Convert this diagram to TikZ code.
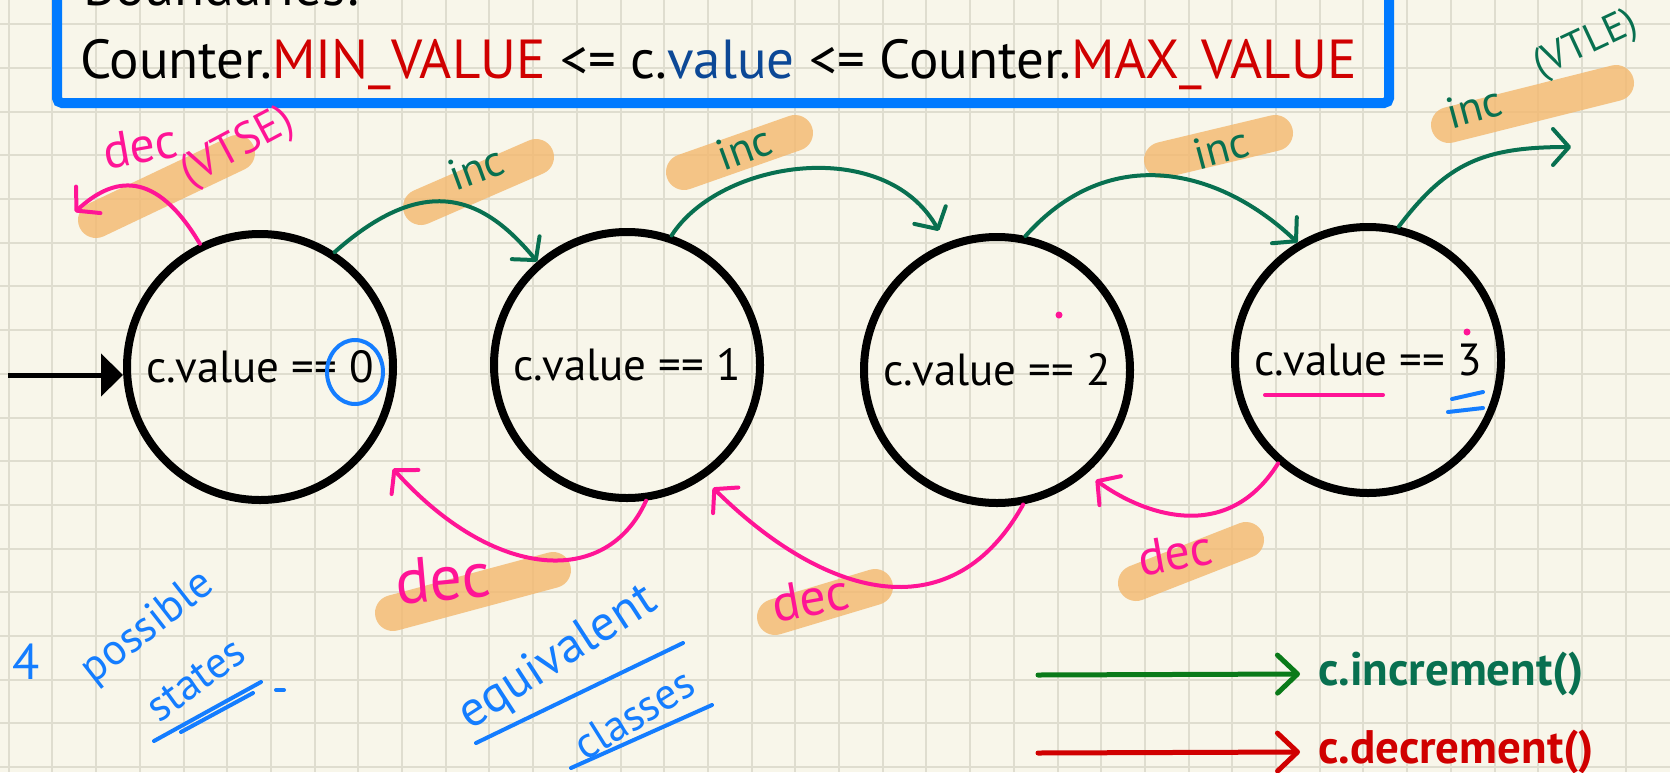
\documentclass[tikz,border=0pt]{standalone}
\usepackage{fontspec}
\setmainfont{PT Sans}
\usepackage{xcolor}
\usepackage{tikz}
\usetikzlibrary{arrows.meta}
\usetikzlibrary{calc}

\definecolor{paper}{RGB}{248,246,234}
\definecolor{gridc}{RGB}{223,221,207}
\definecolor{boxblue}{RGB}{0,122,255}
\definecolor{minred}{RGB}{208,0,0}
\definecolor{valblue}{RGB}{12,72,150}
\definecolor{incgreen}{RGB}{8,112,80}
\definecolor{decpink}{RGB}{255,20,150}
\definecolor{marker}{RGB}{243,184,110}
\definecolor{penblue}{RGB}{20,125,255}
\definecolor{leggreen}{RGB}{10,122,25}

\tikzset{
  gridline/.style={gridc, line width=2pt},
  boxtext/.style={inner sep=0pt, font=\fontsize{55}{62}\selectfont},
  state/.style={draw, circle, line width=8pt, minimum size=266pt, inner sep=0pt,
    font=\fontsize{45}{50}\selectfont},
  hilite/.style={marker, line width=36pt, line cap=round, opacity=.8},
  incarrow/.style={incgreen, line width=4pt, line cap=round,
    -{Straight Barb[round, length=16pt, width=36pt]}},
  decarrow/.style={decpink, line width=4pt, line cap=round,
    -{Straight Barb[round, length=16pt, width=36pt]}},
  hand/.style={inner sep=0pt, font=\fontsize{#1}{#1}\selectfont},
  hand/.default=44,
  pen/.style={penblue, line width=4pt, line cap=round},
  legend/.style={anchor=west, inner sep=0pt, inner xsep=18pt,
    font=\fontsize{47}{50}\selectfont\bfseries},
  legarrow/.style={line width=5pt, line cap=round,
    -{Straight Barb[round, length=20pt, width=38pt]}}
}

\begin{document}
\begin{tikzpicture}[x=1pt, y=1pt]
\useasboundingbox (0,0) rectangle (1670,-772);
\clip (0,0) rectangle (1670,-772);
\fill[paper] (0,0) rectangle (1670,-772);
\foreach \i in {0,...,37}
  \draw[gridline] ({8.7+43.7*\i},0) -- ({8.7+43.7*\i},-772);
\foreach \j in {0,...,17}
  \draw[gridline] (0,{-24.2-43.7*\j}) -- (1670,{-24.2-43.7*\j});

% the bounds
\draw[boxblue, line width=10pt, rounded corners=5pt] (57,40) rectangle (1389,-103);
\node[boxtext, anchor=base west] (bhead) at (83,-5) {Boundaries:};
\node[boxtext, anchor=base west] (bounds) at (80,-78)
  {Counter.\textcolor{minred}{MIN\_VALUE} <= c.\textcolor{valblue}{value} <= Counter.\textcolor{minred}{MAX\_VALUE}};

% marker strokes
\foreach \xa/\ya/\xb/\yb in {96/220/237/153, 421/207/536/157, 684/172/795/133,
    1162/160/1275/133, 1449/125/1616/83, 393/613/553/570, 775/617/875/587, 1136/583/1246/540}
  \draw[hilite] (\xa,-\ya) -- (\xb,-\yb);

% states
\foreach \n/\x/\y in {0/260/367, 1/627/365, 2/997/370, 3/1368/360}
  \node[state] (s\n) at (\x,-\y) {c.value == \n};

\coordinate (init) at (8,-375);
\draw[line width=5pt, -{Triangle[length=22pt, width=42pt]}] (init) -- (init -| s0.west);

% inc
\draw[incarrow] (s0.57) .. controls (425,-172) and (483,-196) .. (s1.131);
\draw[incarrow, shorten >=14pt] (s1.71) .. controls (720,-160) and (885,-135) .. (s2.112);
\draw[incarrow] (s2.78) .. controls (1110,-141) and (1220,-169) .. (s3.121);
\coordinate (incout) at (1571,-147);
\draw[incarrow] (s3.77) .. controls (1447,-163) and (1483,-147) .. (incout);

% dec
\coordinate (decout) at (75,-212);
\draw[decarrow] (s0.116) .. controls (155,-168) and (113,-177) .. (decout);
\draw[decarrow, shorten >=31pt] (s1.-82) .. controls (607,-588) and (494,-581) .. (s0.-35);
\draw[decarrow, shorten >=13pt] (s2.-79) .. controls (954,-629) and (830,-603) .. (s1.-56);
\draw[decarrow, shorten >=11pt] (s3.-131) .. controls (1224,-550) and (1135,-509) .. (s2.-49);

% labels
\node[hand=50, decpink, rotate=10] (dec0) at (140,-146) {dec};
\node[hand, decpink, rotate=28] (vtse) at (238,-148) {(VTSE)};
\node[hand, incgreen, rotate=20] (inc1) at (476,-168) {inc};
\node[hand, incgreen, rotate=20] (inc2) at (744,-148) {inc};
\node[hand, incgreen, rotate=15] (inc3) at (1221,-148) {inc};
\node[hand, incgreen, rotate=15] (inc4) at (1474,-107) {inc};
\node[hand=40, incgreen, rotate=25] (vtle) at (1586,-45) {(VTLE)};
\node[hand=64, decpink, rotate=5] (dec1) at (443,-578) {dec};
\node[hand=52, decpink, rotate=10] (dec2) at (810,-598) {dec};
\node[hand=50, decpink, rotate=10] (dec3) at (1175,-553) {dec};

% pen notes
\draw[pen] (355,-372) ellipse [x radius=28, y radius=32];
\draw[decpink, line width=4pt, line cap=round] (1265,-395) -- (1383,-395);
\draw[pen] (1452,-399) -- (1483,-392);
\draw[pen] (1448,-412) -- (1483,-408);
\fill[decpink] (1059,-315) circle (3.5);
\fill[decpink] (1467,-332) circle (3.5);

\node[hand=50, penblue] (four) at (26,-662) {4};
\node[hand=44, penblue, rotate=38] (possible) at (148,-628) {possible};
\node[hand=44, penblue, rotate=36] (states) at (196,-680) {states};
\draw[pen] (154,-741) -- (261,-682);
\draw[pen] (181,-732) -- (253,-693);
\draw[pen] (276,-690) -- (284,-690);
\node[hand=50, penblue, rotate=33] (equiv) at (558,-658) {equivalent};
\node[hand=44, penblue, rotate=32] (classes) at (634,-714) {classes};
\draw[pen] (476,-743) -- (683,-643);
\draw[pen] (571,-768) -- (712,-705);

% legend
\coordinate (incfrom) at (1038,-675);
\node[legend, incgreen] (inclab) at (1300,-674) {c.increment()};
\draw[legarrow, leggreen] (incfrom) -- (inclab.west);
\coordinate (decfrom) at (1038,-753);
\node[legend, minred] (declab) at (1300,-752) {c.decrement()};
\draw[legarrow, minred] (decfrom) -- (declab.west);
\end{tikzpicture}
\end{document}
